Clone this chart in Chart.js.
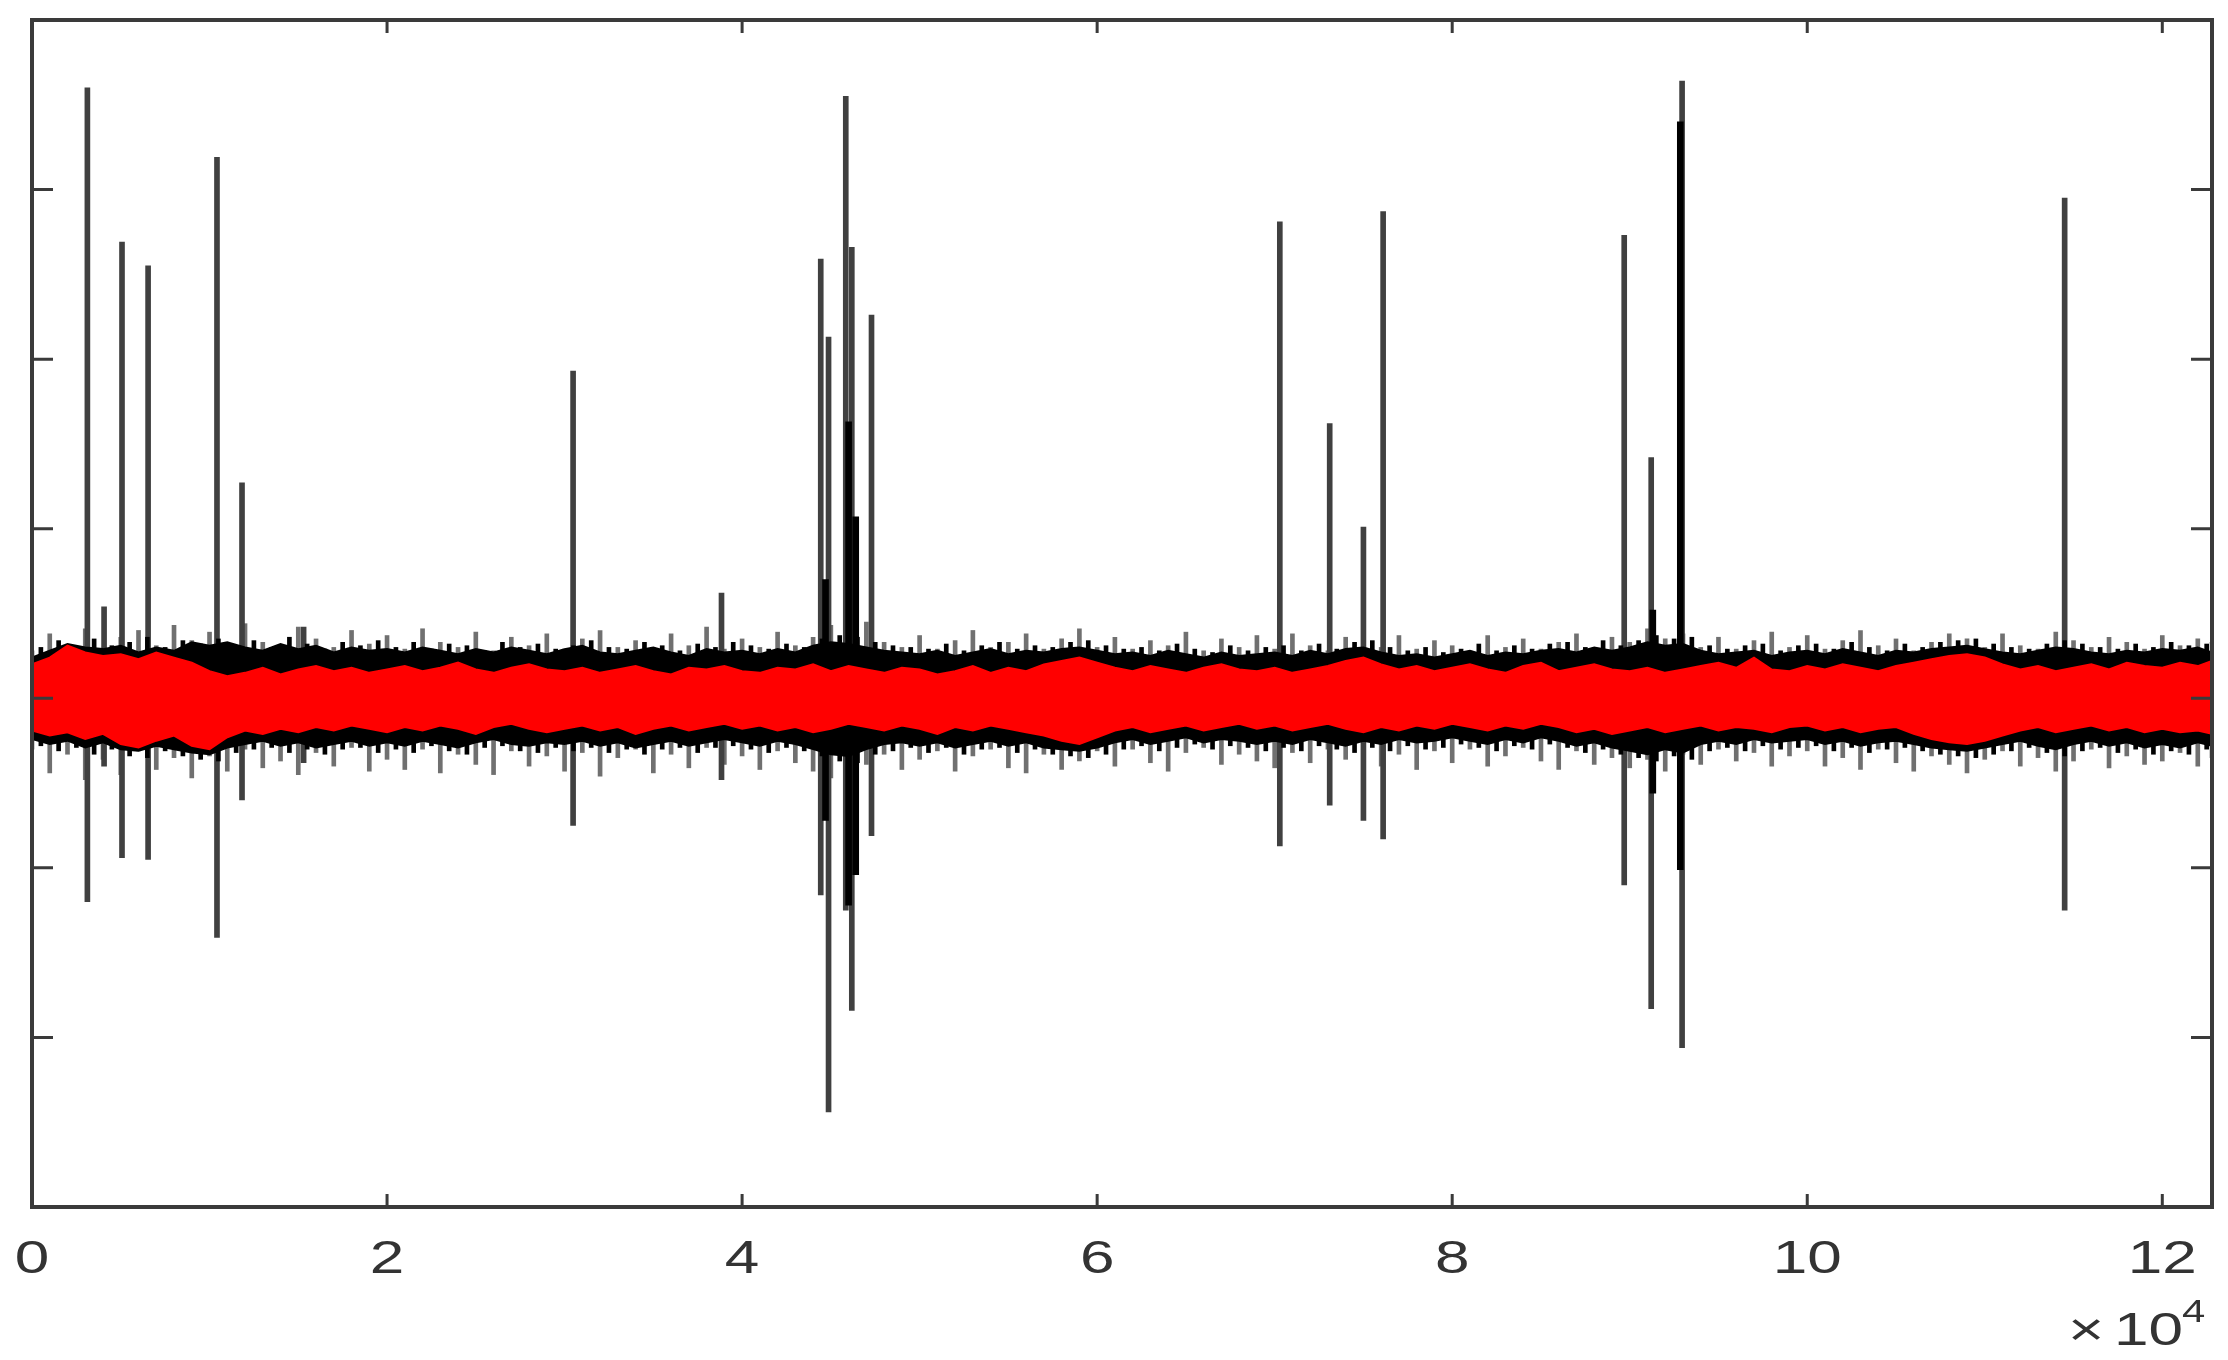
<!DOCTYPE html>
<html>
<head>
<meta charset="utf-8">
<script src="https://cdn.jsdelivr.net/npm/chart.js@4"></script>
<style>
  body { margin: 0; background: #fff; }
  #wrap { width: 2228px; height: 1360px; position: relative; }
</style>
</head>
<body>
<div id="wrap"><canvas id="chart"></canvas></div>
<script>
// x in units of 1e4 samples, y in plot units (band centred on 0)
const xTicks = [0, 2, 4, 6, 8, 10, 12];
const yTicks = [-2, -1, 0, 1, 2, 3];

const bandX = [
  0, 0.1, 0.2, 0.3, 0.4, 0.5, 0.6, 0.7, 0.8, 0.9,
  1, 1.1, 1.2, 1.3, 1.4, 1.5, 1.6, 1.7, 1.8, 1.9,
  2, 2.1, 2.2, 2.3, 2.4, 2.5, 2.6, 2.7, 2.8, 2.9,
  3, 3.1, 3.2, 3.3, 3.4, 3.5, 3.6, 3.7, 3.8, 3.9,
  4, 4.1, 4.2, 4.3, 4.4, 4.5, 4.6, 4.7, 4.8, 4.9,
  5, 5.1, 5.2, 5.3, 5.4, 5.5, 5.6, 5.7, 5.8, 5.9,
  6, 6.1, 6.2, 6.3, 6.4, 6.5, 6.6, 6.7, 6.8, 6.9,
  7, 7.1, 7.2, 7.3, 7.4, 7.5, 7.6, 7.7, 7.8, 7.9,
  8, 8.1, 8.2, 8.3, 8.4, 8.5, 8.6, 8.7, 8.8, 8.9,
  9, 9.1, 9.2, 9.3, 9.4, 9.5, 9.6, 9.7, 9.8, 9.9,
  10, 10.1, 10.2, 10.3, 10.4, 10.5, 10.6, 10.7, 10.8, 10.9,
  11, 11.1, 11.2, 11.3, 11.4, 11.5, 11.6, 11.7, 11.8, 11.9,
  12, 12.1, 12.2, 12.28
];

// red (filtered) signal envelope
const redTop = [
  0.20, 0.24, 0.31, 0.27, 0.25, 0.26, 0.23, 0.27, 0.24, 0.21,
  0.16, 0.13, 0.15, 0.18, 0.14, 0.17, 0.19, 0.16, 0.18, 0.15,
  0.17, 0.19, 0.16, 0.18, 0.21, 0.17, 0.15, 0.18, 0.20, 0.17,
  0.16, 0.18, 0.15, 0.17, 0.19, 0.16, 0.14, 0.18, 0.17, 0.19,
  0.16, 0.15, 0.18, 0.17, 0.20, 0.16, 0.19, 0.17, 0.15, 0.18,
  0.17, 0.14, 0.16, 0.19, 0.15, 0.18, 0.16, 0.20, 0.22, 0.24,
  0.21, 0.18, 0.16, 0.19, 0.17, 0.15, 0.18, 0.20, 0.17, 0.16,
  0.18, 0.15, 0.17, 0.19, 0.22, 0.24, 0.20, 0.17, 0.19, 0.16,
  0.18, 0.20, 0.17, 0.15, 0.19, 0.21, 0.16, 0.18, 0.20, 0.17,
  0.16, 0.18, 0.15, 0.17, 0.19, 0.21, 0.18, 0.24, 0.17, 0.16,
  0.19, 0.17, 0.20, 0.18, 0.16, 0.19, 0.21, 0.23, 0.25, 0.26,
  0.24, 0.20, 0.17, 0.19, 0.16, 0.18, 0.20, 0.17, 0.21, 0.19,
  0.18, 0.21, 0.19, 0.22
];
const redBot = [
  -0.19, -0.22, -0.20, -0.24, -0.21, -0.27, -0.29, -0.25, -0.22, -0.28,
  -0.30, -0.23, -0.19, -0.21, -0.18, -0.20, -0.17, -0.19, -0.16, -0.18,
  -0.20, -0.17, -0.19, -0.16, -0.18, -0.21, -0.17, -0.15, -0.18, -0.20,
  -0.18, -0.16, -0.19, -0.17, -0.21, -0.18, -0.16, -0.19, -0.17, -0.15,
  -0.18, -0.16, -0.19, -0.17, -0.20, -0.18, -0.15, -0.17, -0.19, -0.16,
  -0.18, -0.21, -0.17, -0.19, -0.16, -0.18, -0.20, -0.22, -0.25, -0.27,
  -0.23, -0.19, -0.17, -0.20, -0.18, -0.16, -0.19, -0.17, -0.15, -0.18,
  -0.16, -0.19, -0.17, -0.15, -0.18, -0.20, -0.17, -0.19, -0.16, -0.18,
  -0.15, -0.17, -0.19, -0.16, -0.18, -0.15, -0.17, -0.20, -0.18, -0.21,
  -0.19, -0.17, -0.20, -0.18, -0.16, -0.19, -0.17, -0.18, -0.20, -0.17,
  -0.16, -0.19, -0.17, -0.20, -0.18, -0.17, -0.21, -0.24, -0.26, -0.27,
  -0.25, -0.22, -0.19, -0.17, -0.20, -0.18, -0.16, -0.19, -0.17, -0.20,
  -0.18, -0.20, -0.19, -0.21
];

// black (raw) signal noise envelope
const blackTop = [
  0.24, 0.28, 0.32, 0.30, 0.29, 0.31, 0.27, 0.30, 0.28, 0.33,
  0.31, 0.33, 0.30, 0.28, 0.32, 0.29, 0.31, 0.27, 0.30, 0.28,
  0.29, 0.27, 0.30, 0.28, 0.26, 0.29, 0.27, 0.30, 0.28, 0.26,
  0.29, 0.31, 0.27, 0.26, 0.28, 0.30, 0.27, 0.25, 0.29, 0.27,
  0.28, 0.26, 0.29, 0.27, 0.31, 0.33, 0.32, 0.30, 0.28, 0.27,
  0.26, 0.28, 0.25, 0.27, 0.29, 0.26, 0.28, 0.27, 0.29, 0.30,
  0.28, 0.26, 0.27, 0.25, 0.28, 0.26, 0.24, 0.27, 0.25, 0.26,
  0.27, 0.25, 0.28, 0.26, 0.29, 0.30, 0.27, 0.25, 0.26, 0.24,
  0.26, 0.28, 0.25, 0.27, 0.26, 0.28, 0.29, 0.27, 0.30, 0.28,
  0.30, 0.33, 0.31, 0.32, 0.28, 0.26, 0.27, 0.28, 0.25, 0.27,
  0.28, 0.26, 0.29, 0.27, 0.25, 0.28, 0.27, 0.29, 0.30, 0.31,
  0.29, 0.27, 0.26, 0.28, 0.30, 0.29, 0.27, 0.26, 0.28, 0.27,
  0.29, 0.28, 0.30, 0.27
];
const blackBot = [
  -0.24, -0.27, -0.25, -0.29, -0.26, -0.30, -0.31, -0.28, -0.30, -0.32,
  -0.33, -0.29, -0.27, -0.25, -0.28, -0.26, -0.29, -0.27, -0.25, -0.28,
  -0.26, -0.28, -0.25, -0.27, -0.29, -0.26, -0.24, -0.27, -0.28, -0.26,
  -0.27, -0.25, -0.28, -0.26, -0.29, -0.27, -0.25, -0.28, -0.26, -0.24,
  -0.26, -0.28, -0.25, -0.27, -0.30, -0.33, -0.34, -0.30, -0.27, -0.26,
  -0.28, -0.26, -0.29, -0.27, -0.25, -0.28, -0.26, -0.29, -0.30, -0.31,
  -0.29, -0.26, -0.24, -0.27, -0.25, -0.23, -0.26, -0.24, -0.25, -0.27,
  -0.25, -0.27, -0.24, -0.26, -0.28, -0.25, -0.27, -0.24, -0.26, -0.25,
  -0.23, -0.25, -0.27, -0.24, -0.26, -0.23, -0.25, -0.28, -0.26, -0.29,
  -0.31, -0.33, -0.30, -0.32, -0.27, -0.25, -0.27, -0.24, -0.26, -0.25,
  -0.24, -0.27, -0.25, -0.28, -0.26, -0.25, -0.27, -0.29, -0.30, -0.31,
  -0.29, -0.27, -0.25, -0.28, -0.30, -0.27, -0.25, -0.28, -0.26, -0.29,
  -0.27, -0.29, -0.26, -0.28
];

// outer grey fringe of the raw noise
const fringeTop = [
  0.28, 0.38, 0.30, 0.41, 0.29, 0.36, 0.40, 0.31, 0.43, 0.34,
  0.39, 0.30, 0.44, 0.33, 0.29, 0.42, 0.35, 0.30, 0.40, 0.32,
  0.37, 0.29, 0.41, 0.33, 0.30, 0.39, 0.28, 0.36, 0.31, 0.38,
  0.29, 0.35, 0.40, 0.30, 0.34, 0.28, 0.38, 0.31, 0.42, 0.29,
  0.35, 0.30, 0.39, 0.31, 0.36, 0.43, 0.38, 0.45, 0.33, 0.30,
  0.37, 0.29, 0.34, 0.40, 0.30, 0.33, 0.38, 0.29, 0.35, 0.41,
  0.30, 0.36, 0.29, 0.34, 0.31, 0.39, 0.28, 0.35, 0.30, 0.37,
  0.29, 0.38, 0.31, 0.28, 0.36, 0.33, 0.30, 0.37, 0.29, 0.34,
  0.31, 0.28, 0.37, 0.30, 0.35, 0.29, 0.33, 0.38, 0.30, 0.36,
  0.33, 0.41, 0.35, 0.38, 0.30, 0.36, 0.29, 0.34, 0.39, 0.30,
  0.37, 0.29, 0.34, 0.40, 0.31, 0.35, 0.28, 0.33, 0.38, 0.35,
  0.30, 0.38, 0.31, 0.29, 0.39, 0.34, 0.30, 0.36, 0.33, 0.29,
  0.37, 0.31, 0.35, 0.33
];
const fringeBot = [
  -0.30, -0.44, -0.33, -0.48, -0.36, -0.45, -0.31, -0.42, -0.35, -0.47,
  -0.34, -0.43, -0.30, -0.41, -0.37, -0.45, -0.32, -0.40, -0.29, -0.43,
  -0.36, -0.42, -0.30, -0.44, -0.33, -0.39, -0.45, -0.31, -0.40, -0.34,
  -0.43, -0.32, -0.46, -0.35, -0.30, -0.44, -0.33, -0.41, -0.29, -0.39,
  -0.34, -0.42, -0.31, -0.38, -0.43, -0.47, -0.45, -0.39, -0.33, -0.42,
  -0.36, -0.31, -0.43, -0.34, -0.30, -0.41, -0.44, -0.33, -0.42, -0.37,
  -0.31, -0.40, -0.30, -0.38, -0.43, -0.32, -0.29, -0.39, -0.33, -0.37,
  -0.41, -0.32, -0.38, -0.30, -0.36, -0.29, -0.40, -0.33, -0.42, -0.31,
  -0.38, -0.30, -0.40, -0.34, -0.29, -0.37, -0.42, -0.31, -0.39, -0.35,
  -0.41, -0.36, -0.43, -0.33, -0.39, -0.30, -0.37, -0.32, -0.40, -0.34,
  -0.31, -0.40, -0.35, -0.42, -0.30, -0.38, -0.43, -0.34, -0.39, -0.44,
  -0.36, -0.31, -0.40, -0.35, -0.43, -0.37, -0.30, -0.41, -0.34, -0.39,
  -0.37, -0.32, -0.40, -0.35
];

// extra black noise peaks between the envelope readings
const midX = [
  0.05, 0.15, 0.25, 0.35, 0.45, 0.55, 0.65, 0.75, 0.85, 0.95,
  1.05, 1.15, 1.25, 1.35, 1.45, 1.55, 1.65, 1.75, 1.85, 1.95,
  2.05, 2.15, 2.25, 2.35, 2.45, 2.55, 2.65, 2.75, 2.85, 2.95,
  3.05, 3.15, 3.25, 3.35, 3.45, 3.55, 3.65, 3.75, 3.85, 3.95,
  4.05, 4.15, 4.25, 4.35, 4.45, 4.55, 4.65, 4.75, 4.85, 4.95,
  5.05, 5.15, 5.25, 5.35, 5.45, 5.55, 5.65, 5.75, 5.85, 5.95,
  6.05, 6.15, 6.25, 6.35, 6.45, 6.55, 6.65, 6.75, 6.85, 6.95,
  7.05, 7.15, 7.25, 7.35, 7.45, 7.55, 7.65, 7.75, 7.85, 7.95,
  8.05, 8.15, 8.25, 8.35, 8.45, 8.55, 8.65, 8.75, 8.85, 8.95,
  9.05, 9.15, 9.25, 9.35, 9.45, 9.55, 9.65, 9.75, 9.85, 9.95,
  10.05, 10.15, 10.25, 10.35, 10.45, 10.55, 10.65, 10.75, 10.85, 10.95,
  11.05, 11.15, 11.25, 11.35, 11.45, 11.55, 11.65, 11.75, 11.85, 11.95,
  12.05, 12.15, 12.25
];
const teethTop = [
  0.30, 0.34, 0.29, 0.35, 0.31, 0.33, 0.36, 0.30, 0.34, 0.32,
  0.35, 0.31, 0.34, 0.30, 0.36, 0.32, 0.29, 0.33, 0.31, 0.34,
  0.30, 0.33, 0.29, 0.32, 0.31, 0.28, 0.33, 0.30, 0.32, 0.29,
  0.31, 0.34, 0.30, 0.29, 0.33, 0.31, 0.28, 0.32, 0.30, 0.33,
  0.31, 0.29, 0.32, 0.30, 0.35, 0.37, 0.36, 0.33, 0.31, 0.30,
  0.29, 0.32, 0.28, 0.31, 0.33, 0.29, 0.31, 0.30, 0.33, 0.34,
  0.31, 0.29, 0.30, 0.28, 0.32, 0.29, 0.27, 0.31, 0.28, 0.30,
  0.31, 0.28, 0.32, 0.29, 0.33, 0.34, 0.30, 0.28, 0.30, 0.27,
  0.29, 0.32, 0.28, 0.31, 0.29, 0.32, 0.33, 0.30, 0.34, 0.31,
  0.34, 0.37, 0.35, 0.36, 0.31, 0.29, 0.31, 0.32, 0.28, 0.31,
  0.32, 0.29, 0.33, 0.30, 0.28, 0.32, 0.30, 0.33, 0.34, 0.35,
  0.32, 0.30, 0.29, 0.32, 0.34, 0.32, 0.30, 0.29, 0.32, 0.30,
  0.33, 0.31, 0.32
];
const teethBot = [
  -0.28, -0.31, -0.29, -0.33, -0.30, -0.34, -0.35, -0.31, -0.34, -0.36,
  -0.37, -0.32, -0.30, -0.29, -0.32, -0.30, -0.33, -0.30, -0.29, -0.32,
  -0.30, -0.32, -0.28, -0.31, -0.33, -0.29, -0.28, -0.31, -0.32, -0.29,
  -0.31, -0.29, -0.32, -0.30, -0.33, -0.30, -0.29, -0.32, -0.29, -0.28,
  -0.30, -0.32, -0.29, -0.31, -0.34, -0.37, -0.38, -0.33, -0.31, -0.29,
  -0.32, -0.29, -0.33, -0.30, -0.29, -0.32, -0.30, -0.33, -0.34, -0.35,
  -0.33, -0.30, -0.28, -0.31, -0.29, -0.27, -0.30, -0.28, -0.29, -0.31,
  -0.29, -0.31, -0.28, -0.30, -0.32, -0.29, -0.31, -0.28, -0.30, -0.29,
  -0.27, -0.29, -0.31, -0.28, -0.30, -0.27, -0.29, -0.32, -0.30, -0.33,
  -0.35, -0.37, -0.34, -0.36, -0.31, -0.29, -0.31, -0.28, -0.30, -0.29,
  -0.28, -0.31, -0.29, -0.32, -0.30, -0.29, -0.31, -0.33, -0.34, -0.35,
  -0.33, -0.31, -0.29, -0.32, -0.34, -0.31, -0.29, -0.32, -0.30, -0.33,
  -0.31, -0.33, -0.30
];

// spikes of the raw signal
const spikeX   = [0.312, 0.406, 0.507, 0.654, 1.042, 1.183, 1.53, 3.048, 3.884, 4.443, 4.487, 4.584, 4.618, 4.729, 7.029, 7.31, 7.50, 7.611, 8.969, 9.121, 9.295, 11.45];
const spikeTop = [3.60, 0.54, 2.69, 2.55, 3.19, 1.27, 0.42, 1.93, 0.62, 2.59, 2.13, 3.55, 2.66, 2.26, 2.81, 1.62, 1.01, 2.87, 2.73, 1.42, 3.64, 2.95];
const spikeBot = [-1.20, -0.40, -0.94, -0.95, -1.41, -0.60, -0.38, -0.75, -0.48, -1.16, -2.44, -1.25, -1.84, -0.81, -0.87, -0.63, -0.72, -0.83, -1.10, -1.83, -2.06, -1.25];

// dense dark cores inside the bursts
const coreX   = [4.47, 4.60, 4.64, 9.13, 9.285];
const coreTop = [0.70, 1.63, 1.07, 0.52, 3.40];
const coreBot = [-0.72, -1.22, -1.04, -0.56, -1.01];

const xMax = 12.28;
const yMin = -3, yMax = 4;

function pts(ys) {
  return bandX.map((x, i) => ({ x: x, y: ys[i] }));
}
function bars(xs, lo, hi) {
  return xs.map((x, i) => ({ x: x, y: [lo[i], hi[i]] }));
}

function stretchText(ctx, txt, x, y, size, align) {
  ctx.save();
  ctx.translate(x, y);
  ctx.scale(1.35, 1);
  ctx.font = size + 'px "Liberation Sans", Arial, sans-serif';
  ctx.textAlign = align;
  ctx.textBaseline = 'alphabetic';
  ctx.fillText(txt, 0, 0);
  ctx.restore();
}

// box, inward ticks, tick labels and the x10^4 exponent
const axesBox = {
  id: 'axesBox',
  afterDraw(chart) {
    const ctx = chart.ctx;
    const a = chart.chartArea;
    const xs = chart.scales.x, ys = chart.scales.y;
    ctx.save();
    ctx.strokeStyle = '#3a3a3a';
    ctx.lineWidth = 3;
    xTicks.forEach(t => {
      const px = xs.getPixelForValue(t);
      ctx.beginPath();
      ctx.moveTo(px, a.bottom); ctx.lineTo(px, a.bottom - 13);
      ctx.moveTo(px, a.top); ctx.lineTo(px, a.top + 13);
      ctx.stroke();
    });
    yTicks.forEach(t => {
      const py = ys.getPixelForValue(t);
      ctx.beginPath();
      ctx.moveTo(a.left, py); ctx.lineTo(a.left + 21, py);
      ctx.moveTo(a.right, py); ctx.lineTo(a.right - 21, py);
      ctx.stroke();
    });
    ctx.lineWidth = 4;
    ctx.strokeRect(a.left, a.top, a.right - a.left, a.bottom - a.top);

    ctx.fillStyle = '#333333';
    xTicks.forEach(t => {
      stretchText(ctx, String(t), xs.getPixelForValue(t), a.bottom + 66, 46, 'center');
    });
    stretchText(ctx, '\u00d7', 2068, 1345, 46, 'left');
    stretchText(ctx, '10', 2114, 1345, 46, 'left');
    stretchText(ctx, '4', 2182, 1322, 31, 'left');
    ctx.restore();
  }
};

new Chart(document.getElementById('chart'), {
  type: 'bar',
  data: {
    datasets: [
      {
        type: 'line', data: pts(redTop), borderColor: '#ff0000', borderWidth: 2,
        pointRadius: 0, fill: false, order: 1
      },
      {
        type: 'line', data: pts(redBot), borderColor: '#ff0000', borderWidth: 2,
        backgroundColor: '#ff0000', pointRadius: 0, fill: '-1', order: 1
      },
      {
        type: 'line', data: pts(blackTop), borderColor: '#000000', borderWidth: 2,
        pointRadius: 0, fill: false, order: 2
      },
      {
        type: 'line', data: pts(blackBot), borderColor: '#000000', borderWidth: 2,
        backgroundColor: '#000000', pointRadius: 0, fill: '-1', order: 2
      },
      {
        data: bars(midX, teethBot, teethTop), backgroundColor: '#000000',
        barThickness: 4, grouped: false, order: 3
      },
      {
        data: bars(coreX, coreBot, coreTop), backgroundColor: '#000000',
        barThickness: 6, grouped: false, order: 3
      },
      {
        data: bars(spikeX, spikeBot, spikeTop), backgroundColor: '#404040',
        barThickness: 5, grouped: false, order: 4
      },
      {
        data: bars(bandX, fringeBot, fringeTop), backgroundColor: '#707070',
        barThickness: 4, grouped: false, order: 5
      }
    ]
  },
  options: {
    responsive: true,
    maintainAspectRatio: false,
    animation: false,
    events: [],
    layout: { padding: { left: 32, top: 20, right: 16, bottom: 153 } },
    scales: {
      x: { type: 'linear', min: 0, max: xMax, offset: false, display: false },
      y: { type: 'linear', min: yMin, max: yMax, display: false }
    },
    plugins: {
      legend: { display: false },
      tooltip: { enabled: false },
      filler: { drawTime: 'beforeDatasetDraw' }
    }
  },
  plugins: [axesBox]
});
</script>
</body>
</html>
